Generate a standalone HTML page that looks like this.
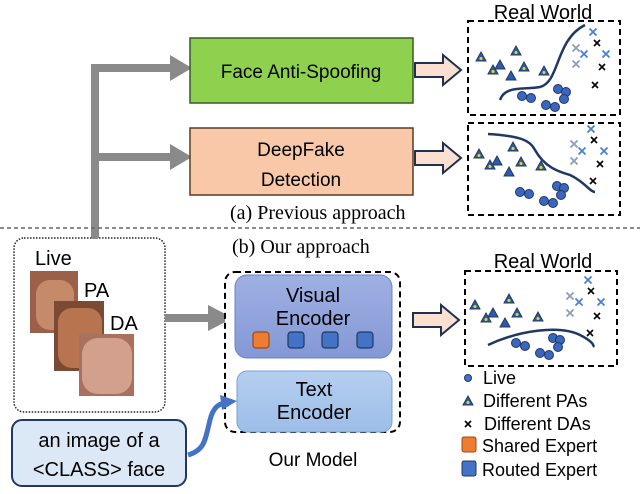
<!DOCTYPE html>
<html><head><style>
body{margin:0;background:#fff;}
svg text{font-family:"Liberation Sans",sans-serif;}
.serif{font-family:"Liberation Serif",serif;}
</style></head><body>
<svg width="640" height="489" viewBox="0 0 640 489" xmlns="http://www.w3.org/2000/svg">
<defs>
<linearGradient id="ve" x1="0" y1="0" x2="0" y2="1"><stop offset="0" stop-color="#9fb0e2"/><stop offset="1" stop-color="#8498d6"/></linearGradient>
<linearGradient id="te" x1="0" y1="0" x2="0" y2="1"><stop offset="0" stop-color="#b5cff0"/><stop offset="1" stop-color="#9dbde8"/></linearGradient>
<g id="tri"><path d="M0,-5 L5,4 L-5,4z" fill="#2f5aa8" stroke="#1f3864" stroke-width="1"/></g>
<g id="triy"><path d="M0,-5 L5,4 L-5,4z" fill="#2f5aa8" stroke="#1f3864" stroke-width="1"/><circle cx="0" cy="1.5" r="1.5" fill="#e8e000"/></g>
<g id="dot"><circle r="4.5" fill="#3a66c0" stroke="#1f3864" stroke-width="1"/></g>
<g id="xk"><path d="M-3,-3 L3,3 M3,-3 L-3,3" stroke="#000" stroke-width="1.6"/></g>
<g id="xb"><path d="M-3.5,-3.5 L3.5,3.5 M3.5,-3.5 L-3.5,3.5" stroke="#4a7fd6" stroke-width="1.8"/></g>
<g id="xg"><path d="M-3.5,-3.5 L3.5,3.5 M3.5,-3.5 L-3.5,3.5" stroke="#8e9cb8" stroke-width="1.8"/></g>
<g id="hol"><path d="M0,-7 L28,-7 L28,-15 L46,0 L28,15 L28,7 L0,7z" fill="#fbe0d2" stroke="#1f3050" stroke-width="2"/></g>
</defs>

<path d="M95,238 L95,68 L170,68" stroke="#8a8a8a" stroke-width="8" fill="none"/>
<path d="M170,55 L192,68 L170,81z" fill="#8a8a8a"/>
<path d="M95,157 L170,157" stroke="#8a8a8a" stroke-width="8" fill="none"/>
<path d="M170,144 L192,157 L170,170z" fill="#8a8a8a"/>

<rect x="190" y="38" width="223" height="65" fill="#8ed14f" stroke="#3b5a1f" stroke-width="1.5"/>
<text x="301" y="78" font-size="19" text-anchor="middle">Face Anti-Spoofing</text>
<rect x="190" y="128" width="223" height="67" fill="#f9c8a8" stroke="#5a3a20" stroke-width="1.5"/>
<text x="301" y="156" font-size="19" text-anchor="middle">DeepFake</text>
<text x="301" y="186" font-size="19" text-anchor="middle">Detection</text>

<use href="#hol" x="415" y="70"/>
<use href="#hol" x="415" y="158"/>

<text x="543" y="19" font-size="20" text-anchor="middle">Real World</text>
<rect x="468" y="21" width="152" height="94" fill="#fff" stroke="#000" stroke-width="2" stroke-dasharray="6,4"/>
<path d="M500,100 C505,85 525,90 540,87 C560,82 555,40 585,25" stroke="#1f3864" stroke-width="2.5" fill="none"/>
<use href="#triy" x="481" y="57"/><use href="#triy" x="493" y="70"/><use href="#tri" x="500" y="65"/><use href="#triy" x="516" y="51"/><use href="#triy" x="524" y="67"/><use href="#tri" x="511" y="76"/><use href="#triy" x="544" y="71"/>
<use href="#dot" x="522" y="96"/><use href="#dot" x="531" y="98"/><use href="#dot" x="546" y="105"/><use href="#dot" x="555" y="107"/><use href="#dot" x="558" y="89"/><use href="#dot" x="566" y="92"/><use href="#dot" x="564" y="99"/>
<use href="#xb" x="593" y="32"/><use href="#xk" x="597" y="43"/><use href="#xg" x="576" y="48"/><use href="#xb" x="584" y="54"/><use href="#xb" x="606" y="54"/><use href="#xg" x="576" y="64"/><use href="#xk" x="602" y="67"/><use href="#xk" x="595" y="85"/>

<rect x="468" y="123" width="152" height="92" fill="#fff" stroke="#000" stroke-width="2" stroke-dasharray="6,4"/>
<path d="M488,134 C520,136 530,140 535,150 C545,168 560,172 570,175 C585,182 590,192 595,192" stroke="#1f3864" stroke-width="2.5" fill="none"/>
<use href="#triy" x="479" y="154"/><use href="#triy" x="490" y="165"/><use href="#tri" x="497" y="161"/><use href="#triy" x="513" y="147"/><use href="#triy" x="521" y="162"/><use href="#tri" x="509" y="172"/><use href="#triy" x="541" y="166"/>
<use href="#dot" x="520" y="192"/><use href="#dot" x="529" y="194"/><use href="#dot" x="544" y="201"/><use href="#dot" x="553" y="203"/><use href="#dot" x="557" y="186"/><use href="#dot" x="564" y="188"/><use href="#dot" x="561" y="195"/>
<use href="#xb" x="591" y="129"/><use href="#xk" x="594" y="140"/><use href="#xg" x="574" y="144"/><use href="#xb" x="582" y="151"/><use href="#xb" x="604" y="151"/><use href="#xg" x="574" y="161"/><use href="#xk" x="600" y="164"/><use href="#xk" x="593" y="181"/>

<text class="serif" x="230" y="219" font-size="20">(a) Previous approach</text>
<line x1="0" y1="228" x2="640" y2="228" stroke="#666" stroke-width="1.5" stroke-dasharray="4,3"/>
<text class="serif" x="232" y="253" font-size="20">(b) Our approach</text>

<rect x="14" y="238" width="151" height="174" rx="10" fill="#fff" stroke="#222" stroke-width="1.5" stroke-dasharray="1.5,1.5"/>
<rect x="92" y="230" width="6" height="9" fill="#8a8a8a"/>
<text x="35" y="265" font-size="20">Live</text>
<text x="84" y="297" font-size="20">PA</text>
<text x="110" y="330" font-size="20">DA</text>
<rect x="30" y="271" width="48" height="62" fill="#9a6048"/>
<rect x="36" y="280" width="38" height="50" rx="14" fill="#c48a6a"/>
<rect x="54" y="301" width="50" height="70" fill="#7a4a34"/>
<rect x="58" y="308" width="44" height="60" rx="14" fill="#b8734f"/>
<rect x="79" y="334" width="55" height="62" fill="#a8705e"/>
<rect x="82" y="338" width="50" height="56" rx="16" fill="#d2a08c"/>

<path d="M165,318 L210,318" stroke="#8a8a8a" stroke-width="8"/>
<path d="M208,305 L233,318 L208,331z" fill="#8a8a8a"/>

<rect x="225" y="272" width="175" height="160" rx="10" fill="#fff" stroke="#000" stroke-width="2" stroke-dasharray="6,4"/>
<rect x="235" y="275" width="157" height="83" rx="12" fill="url(#ve)" stroke="#6a82c8" stroke-width="1"/>
<text x="313" y="302" font-size="20" text-anchor="middle">Visual</text>
<text x="313" y="325" font-size="20" text-anchor="middle">Encoder</text>
<rect x="253" y="332" width="16" height="16" rx="3" fill="#ed7d31" stroke="#a04a10" stroke-width="1.2"/>
<rect x="288" y="332" width="16" height="16" rx="3" fill="#4472c4" stroke="#1f3864" stroke-width="1.2"/>
<rect x="322" y="332" width="16" height="16" rx="3" fill="#4472c4" stroke="#1f3864" stroke-width="1.2"/>
<rect x="357" y="332" width="16" height="16" rx="3" fill="#4472c4" stroke="#1f3864" stroke-width="1.2"/>
<rect x="237" y="371" width="155" height="61" rx="10" fill="url(#te)" stroke="#7aa0d8" stroke-width="1"/>
<text x="314" y="396" font-size="20" text-anchor="middle">Text</text>
<text x="314" y="419" font-size="20" text-anchor="middle">Encoder</text>
<text x="313" y="466" font-size="19" text-anchor="middle">Our Model</text>

<rect x="12" y="420" width="174" height="66" rx="10" fill="#dce8f6" stroke="#1f3864" stroke-width="2"/>
<text x="99" y="447" font-size="20" text-anchor="middle">an image of a</text>
<text x="99" y="476" font-size="20" text-anchor="middle">&lt;CLASS&gt; face</text>
<path d="M188,455 C205,450 205,440 210,420 C213,408 218,404 225,403" stroke="#4472c4" stroke-width="5" fill="none"/>
<path d="M220,395 L237,401 L222,410z" fill="#4472c4"/>

<use href="#hol" x="413" y="320"/>
<text x="543" y="268" font-size="20" text-anchor="middle">Real World</text>
<rect x="465" y="271" width="152" height="95" fill="#fff" stroke="#000" stroke-width="2" stroke-dasharray="6,4"/>
<path d="M488,345 C520,330 560,325 580,335 C590,340 595,345 593,347" stroke="#1f3864" stroke-width="2.5" fill="none"/>
<use href="#triy" x="475" y="305"/><use href="#triy" x="486" y="318"/><use href="#tri" x="493" y="313"/><use href="#triy" x="509" y="299"/><use href="#triy" x="517" y="313"/><use href="#tri" x="505" y="323"/><use href="#triy" x="538" y="317"/>
<use href="#dot" x="516" y="343"/><use href="#dot" x="525" y="346"/><use href="#dot" x="540" y="353"/><use href="#dot" x="549" y="355"/><use href="#dot" x="553" y="338"/><use href="#dot" x="560" y="340"/><use href="#dot" x="558" y="347"/>
<use href="#xb" x="588" y="280"/><use href="#xk" x="591" y="291"/><use href="#xg" x="570" y="296"/><use href="#xb" x="579" y="302"/><use href="#xb" x="601" y="302"/><use href="#xg" x="570" y="313"/><use href="#xk" x="597" y="316"/><use href="#xk" x="590" y="333"/>

<circle cx="468" cy="378" r="3.5" fill="#4472c4" stroke="#1f3864"/>
<text x="483" y="384" font-size="18">Live</text>
<use href="#triy" x="468" y="401"/>
<text x="483" y="407" font-size="18">Different PAs</text>
<use href="#xk" x="468" y="424"/>
<text x="484" y="430" font-size="18">Different DAs</text>
<rect x="462" y="437" width="14" height="15" rx="2" fill="#ed7d31" stroke="#a04a10"/>
<text x="482" y="452" font-size="18">Shared Expert</text>
<rect x="462" y="461" width="14" height="15" rx="2" fill="#4472c4" stroke="#1f3864"/>
<text x="482" y="476" font-size="18">Routed Expert</text>
</svg>
</body></html>
